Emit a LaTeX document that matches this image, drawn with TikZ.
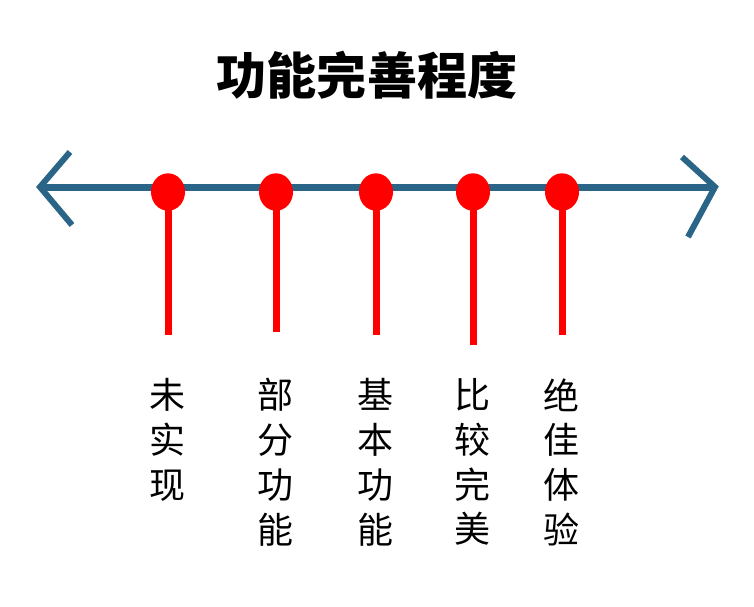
\documentclass[tikz,border=0pt]{standalone}
\usepackage{fontspec}
\newfontfamily\cjk{Noto Sans CJK SC}
\newfontfamily\cjkm{Noto Sans CJK SC Medium}
\begin{document}
\begin{tikzpicture}[x=0.02cm,y=-0.02cm]
\definecolor{axisc}{HTML}{2A6487}
\tikzset{lbl/.style={font=\cjk\fontsize{20.5}{25.5}\selectfont,align=center,anchor=north,inner sep=0pt},
stem/.style={red,line width=7*0.02cm}}
\useasboundingbox (0,0) rectangle (754,606);
\node[font=\cjk\bfseries\fontsize{28.5}{32}\selectfont] (title) at (367,75) {功能完善程度};
\coordinate (L) at (40,187); \coordinate (R) at (715,187);
\coordinate (la) at (70,152); \coordinate (lb) at (72,225);
\coordinate (ra) at (682,157); \coordinate (rb) at (688,237);
\draw[axisc,line width=7*0.02cm] (L) -- (R);
\draw[axisc,line width=6*0.02cm,line join=miter] (la) -- (L) -- (lb);
\draw[axisc,line width=6*0.02cm,line join=miter] (ra) -- (R) -- (rb);
\foreach \x/\b/\n/\t in {168/335/a/未\\实\\现,276/332/b/部\\分\\功\\能,376/335/c/基\\本\\功\\能,473/345/d/比\\较\\完\\美,562/335/e/绝\\佳\\体\\验}{
  \coordinate (s\n) at (\x,\b);
  \draw[stem] (\x,192) -- (s\n);
  \node[circle,fill=red,minimum size=34*0.02cm,inner sep=0pt,yscale=1.1] (d\n) at (\x,192) {};
  \node[lbl] (t\n) at (\x,378) {\t};
}
\end{tikzpicture}
\end{document}
